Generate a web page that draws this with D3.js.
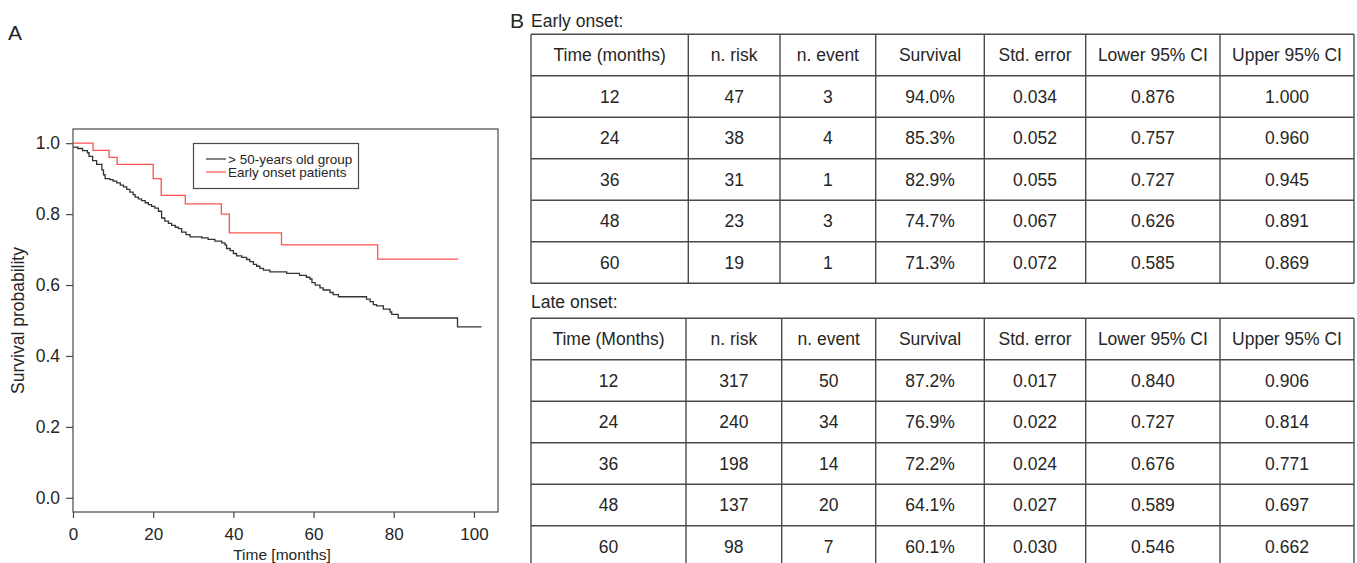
<!DOCTYPE html>
<html>
<head>
<meta charset="utf-8">
<script src="https://cdn.jsdelivr.net/npm/d3@7/dist/d3.min.js"></script>
<style>
  html, body { margin: 0; padding: 0; background: #fff; }
  svg { display: block; font-family: "Liberation Sans", Arial, Helvetica, sans-serif; }
</style>
</head>
<body>
<svg id="chart" width="1357" height="563"></svg>
<script>
// ---------- DATA ----------
// Kaplan-Meier steps: each value holds from its time onwards
const lateTimes = [0, 1.2, 2.4, 3.6, 4.0, 4.9, 5.9, 7.2, 7.6, 8.0, 9.2, 10.0, 10.9, 11.8, 12.6, 13.4, 14.2, 15.0, 15.5, 16.3, 17.1, 18.0, 18.8, 19.6, 20.4, 21.3, 22.1, 22.9, 23.8, 24.6, 25.5, 26.3, 27.1, 28.2, 29.2, 32.1, 33.7, 35.4, 37.1, 37.9, 38.3, 39.2, 40.0, 40.8, 42.1, 43.3, 44.1, 45.0, 45.8, 46.6, 47.5, 49.1, 53.3, 56.5, 58.2, 59.1, 59.6, 60.4, 61.6, 62.4, 64.1, 64.9, 66.2, 73.2, 74.1, 74.9, 75.7, 77.4, 79.1, 79.5, 81.1, 95.9, 101.9];
const lateSurv  = [0.989, 0.985, 0.979, 0.973, 0.963, 0.951, 0.940, 0.925, 0.911, 0.900, 0.897, 0.893, 0.888, 0.882, 0.877, 0.870, 0.862, 0.855, 0.848, 0.843, 0.838, 0.832, 0.827, 0.822, 0.817, 0.808, 0.789, 0.780, 0.774, 0.768, 0.763, 0.759, 0.749, 0.742, 0.736, 0.733, 0.729, 0.724, 0.719, 0.713, 0.703, 0.697, 0.689, 0.682, 0.678, 0.672, 0.666, 0.658, 0.653, 0.647, 0.642, 0.637, 0.633, 0.627, 0.622, 0.617, 0.607, 0.600, 0.592, 0.586, 0.579, 0.573, 0.567, 0.560, 0.553, 0.545, 0.541, 0.532, 0.524, 0.517, 0.507, 0.482, 0.482];

const earlyTimes = [0, 5, 9, 11, 20, 22, 28, 37, 39, 52, 76, 96.1];
const earlySurv  = [1.0, 0.98, 0.96, 0.94, 0.90, 0.853, 0.829, 0.80, 0.747, 0.713, 0.673, 0.673];

const seriesNames = ["> 50-years old group", "Early onset patients"];
const xTicks = [0, 20, 40, 60, 80, 100];
const yTicks = [0.0, 0.2, 0.4, 0.6, 0.8, 1.0];

const earlyHeaders = ["Time (months)", "n. risk", "n. event", "Survival", "Std. error", "Lower 95% CI", "Upper 95% CI"];
const lateHeaders  = ["Time (Months)", "n. risk", "n. event", "Survival", "Std. error", "Lower 95% CI", "Upper 95% CI"];
const earlyRows = [
  ["12", "47", "3", "94.0%", "0.034", "0.876", "1.000"],
  ["24", "38", "4", "85.3%", "0.052", "0.757", "0.960"],
  ["36", "31", "1", "82.9%", "0.055", "0.727", "0.945"],
  ["48", "23", "3", "74.7%", "0.067", "0.626", "0.891"],
  ["60", "19", "1", "71.3%", "0.072", "0.585", "0.869"]
];
const lateRows = [
  ["12", "317", "50", "87.2%", "0.017", "0.840", "0.906"],
  ["24", "240", "34", "76.9%", "0.022", "0.727", "0.814"],
  ["36", "198", "14", "72.2%", "0.024", "0.676", "0.771"],
  ["48", "137", "20", "64.1%", "0.027", "0.589", "0.697"],
  ["60", "98", "7", "60.1%", "0.030", "0.546", "0.662"]
];

// ---------- DRAW ----------
const svg = d3.select("#chart");
const ink = "#262626";
const axisCol = "#4a4a4a";

const plot = { left: 73, right: 498, top: 129, bottom: 512 };
const x = d3.scaleLinear().domain([0, 106]).range([plot.left, plot.right]);
const y = d3.scaleLinear().domain([-0.04, 1.04]).range([plot.bottom, plot.top]);

// panel letters
svg.append("text").attr("x", 8).attr("y", 40).attr("font-size", 21).attr("fill", ink).text("A");
svg.append("text").attr("x", 510).attr("y", 28).attr("font-size", 21).attr("fill", ink).text("B");

// box
svg.append("rect")
  .attr("x", plot.left).attr("y", plot.top)
  .attr("width", plot.right - plot.left).attr("height", plot.bottom - plot.top)
  .attr("fill", "none").attr("stroke", axisCol).attr("stroke-width", 1.2);

// y axis
const yAxis = d3.axisLeft(y).tickValues(yTicks).tickFormat(d3.format(".1f")).tickSize(7).tickPadding(6);
const gy = svg.append("g").attr("transform", `translate(${plot.left},0)`).call(yAxis);
gy.select(".domain").remove();
gy.selectAll(".tick line").attr("stroke", axisCol).attr("stroke-width", 1.2);
gy.selectAll(".tick text").attr("font-size", 17.5).attr("fill", ink).attr("font-family", "Liberation Sans, Arial, sans-serif");

// x axis
const xAxis = d3.axisBottom(x).tickValues(xTicks).tickFormat(d3.format("d")).tickSize(6).tickPadding(10);
const gx = svg.append("g").attr("transform", `translate(0,${plot.bottom})`).call(xAxis);
gx.select(".domain").remove();
gx.selectAll(".tick line").attr("stroke", axisCol).attr("stroke-width", 1.2);
gx.selectAll(".tick text").attr("font-size", 17).attr("fill", ink).attr("font-family", "Liberation Sans, Arial, sans-serif");

// axis titles
svg.append("text")
  .attr("transform", `translate(24,${(plot.top + plot.bottom) / 2}) rotate(-90)`)
  .attr("text-anchor", "middle").attr("font-size", 17.5).attr("fill", ink)
  .text("Survival probability");
svg.append("text")
  .attr("x", 282).attr("y", 559.6)
  .attr("text-anchor", "middle").attr("font-size", 15.5).attr("fill", ink)
  .text("Time [months]");

// curves
const line = d3.line().x(d => x(d[0])).y(d => y(d[1])).curve(d3.curveStepAfter);
const lateData = lateTimes.map((t, i) => [t, lateSurv[i]]);
const earlyData = earlyTimes.map((t, i) => [t, earlySurv[i]]);
const colors = ["#333333", "#ff5252"];

svg.append("path").datum(lateData).attr("d", line)
  .attr("fill", "none").attr("stroke", colors[0]).attr("stroke-width", 1.3);
svg.append("path").datum(earlyData).attr("d", line)
  .attr("fill", "none").attr("stroke", colors[1]).attr("stroke-width", 1.3);

// legend
const lg = svg.append("g");
lg.append("rect").attr("x", 193.5).attr("y", 143.5).attr("width", 165).attr("height", 45)
  .attr("fill", "#fff").attr("stroke", axisCol).attr("stroke-width", 1.2);
seriesNames.forEach((name, i) => {
  const ly = 159 + i * 13;
  lg.append("line").attr("x1", 206).attr("x2", 226).attr("y1", ly).attr("y2", ly)
    .attr("stroke", colors[i]).attr("stroke-width", 1.2);
  lg.append("text").attr("x", 228).attr("y", ly + 4.6).attr("font-size", 13.5).attr("fill", ink).text(name);
});

// tables
function drawTable(title, titleY, top, cols, headers, rows) {
  const rowH = 41.5;
  svg.append("text").attr("x", 531).attr("y", titleY).attr("font-size", 17.5).attr("fill", ink).text(title);
  const g = svg.append("g");
  const all = [headers].concat(rows);
  all.forEach((r, ri) => {
    r.forEach((cell, ci) => {
      const cx = (cols[ci] + cols[ci + 1]) / 2;
      const cy = top + ri * rowH + rowH / 2;
      g.append("text").attr("x", cx).attr("y", cy).attr("dy", "0.36em")
        .attr("text-anchor", "middle").attr("font-size", 17.5).attr("fill", ink).text(cell);
    });
  });
  const bottom = top + all.length * rowH;
  for (let i = 0; i <= all.length; i++) {
    const yy = top + i * rowH;
    g.append("line").attr("x1", cols[0]).attr("x2", cols[cols.length - 1]).attr("y1", yy).attr("y2", yy)
      .attr("stroke", axisCol).attr("stroke-width", 1.4);
  }
  cols.forEach(cx => {
    g.append("line").attr("x1", cx).attr("x2", cx).attr("y1", top).attr("y2", bottom)
      .attr("stroke", axisCol).attr("stroke-width", 1.4);
  });
}
drawTable("Early onset:", 26.5, 34.3, [531, 688.3, 780, 875.7, 984.3, 1085.7, 1220, 1354], earlyHeaders, earlyRows);
drawTable("Late onset:", 308, 318.3, [531, 686, 781.7, 875.7, 984.3, 1085.7, 1220, 1354], lateHeaders, lateRows);
</script>
</body>
</html>
